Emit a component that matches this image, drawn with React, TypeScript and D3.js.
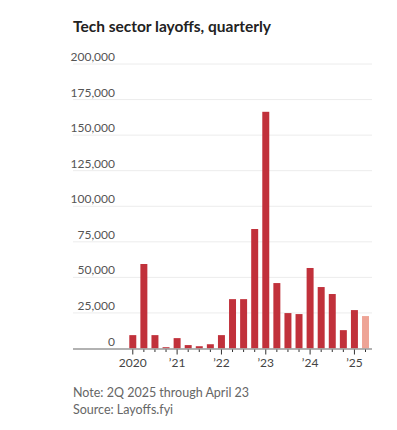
import { useEffect, useRef } from 'react';
import * as d3 from 'd3';

// Quarterly tech layoffs, 1Q 2020 to 2Q 2025 (last one partial)
const quarters = [
  '2020Q1', '2020Q2', '2020Q3', '2020Q4',
  '2021Q1', '2021Q2', '2021Q3', '2021Q4',
  '2022Q1', '2022Q2', '2022Q3', '2022Q4',
  '2023Q1', '2023Q2', '2023Q3', '2023Q4',
  '2024Q1', '2024Q2', '2024Q3', '2024Q4',
  '2025Q1', '2025Q2',
];
const layoffs = [
  9400, 59400, 9400, 900,
  7300, 2400, 1600, 3000,
  9400, 34700, 34700, 84000,
  166400, 46000, 24900, 24200,
  56600, 43200, 38300, 12900,
  27000, 22800,
];
const partialQuarter = '2025Q2';
const yTicks = [0, 25000, 50000, 75000, 100000, 125000, 150000, 175000, 200000];
const yearLabels: Record<string, string> = {
  '2020Q1': '2020',
  '2021Q1': '\u201921',
  '2022Q1': '\u201922',
  '2023Q1': '\u201923',
  '2024Q1': '\u201924',
  '2025Q1': '\u201925',
};

const font = 'Lato, "Noto Sans", sans-serif';

export default function App() {
  const svgRef = useRef<SVGSVGElement>(null);

  useEffect(() => {
    if (!svgRef.current) return;
    const svg = d3.select(svgRef.current);
    svg.selectAll('*').remove();

    const left = 73;
    const right = 372;
    const top = 64;
    const bottom = 348.5;

    const x = d3.scaleBand<string>()
      .domain(quarters)
      .range([127.3, 371])
      .paddingInner(0.37)
      .paddingOuter(0.18);
    const y = d3.scaleLinear().domain([0, 200000]).range([bottom, top]);

    // title
    svg.append('text')
      .attr('x', left)
      .attr('y', 32)
      .attr('font-family', font)
      .attr('font-weight', 700)
      .attr('font-size', 15.5)
      .attr('fill', '#222')
      .text('Tech sector layoffs, quarterly');

    // grid + y labels
    const grid = svg.append('g');
    yTicks.forEach((t) => {
      if (t > 0) {
        grid.append('line')
          .attr('x1', left)
          .attr('x2', right)
          .attr('y1', y(t))
          .attr('y2', y(t))
          .attr('stroke', '#ececec')
          .attr('stroke-width', 1);
      }
      grid.append('text')
        .attr('x', 115)
        .attr('y', y(t) - 3)
        .attr('text-anchor', 'end')
        .attr('font-family', font)
        .attr('font-size', 12)
        .attr('fill', '#555')
        .text(d3.format(',')(t));
    });

    // bars
    svg.append('g')
      .selectAll('rect')
      .data(quarters)
      .join('rect')
      .attr('x', (d) => x(d)!)
      .attr('width', x.bandwidth())
      .attr('y', (d, i) => y(layoffs[i]))
      .attr('height', (d, i) => bottom - y(layoffs[i]))
      .attr('fill', (d) => (d === partialQuarter ? '#eea496' : '#c1313b'));

    // baseline
    svg.append('line')
      .attr('x1', left)
      .attr('x2', right)
      .attr('y1', bottom + 0.5)
      .attr('y2', bottom + 0.5)
      .attr('stroke', '#999')
      .attr('stroke-width', 1.5);

    // ticks
    const ax = svg.append('g');
    quarters.forEach((q) => {
      const cx = x(q)! + x.bandwidth() / 2;
      const isYear = q in yearLabels;
      ax.append('line')
        .attr('x1', cx)
        .attr('x2', cx)
        .attr('y1', bottom + 1)
        .attr('y2', bottom + (isYear ? 6 : 3.5))
        .attr('stroke', '#333')
        .attr('stroke-width', 1);
      if (isYear) {
        ax.append('text')
          .attr('x', cx)
          .attr('y', 367)
          .attr('text-anchor', 'middle')
          .attr('font-family', font)
          .attr('font-size', 12)
          .attr('fill', '#444')
          .text(yearLabels[q]);
      }
    });

    // notes
    const notes = ['Note: 2Q 2025 through April 23', 'Source: Layoffs.fyi'];
    notes.forEach((n, i) => {
      svg.append('text')
        .attr('x', left)
        .attr('y', 396.5 + i * 17)
        .attr('font-family', font)
        .attr('font-size', 12.5)
        .attr('fill', '#666')
        .text(n);
    });
  }, []);

  return (
    <svg
      ref={svgRef}
      width={397}
      height={430}
      style={{ position: 'absolute', left: 0, top: 0, background: '#fff' }}
    />
  );
}
